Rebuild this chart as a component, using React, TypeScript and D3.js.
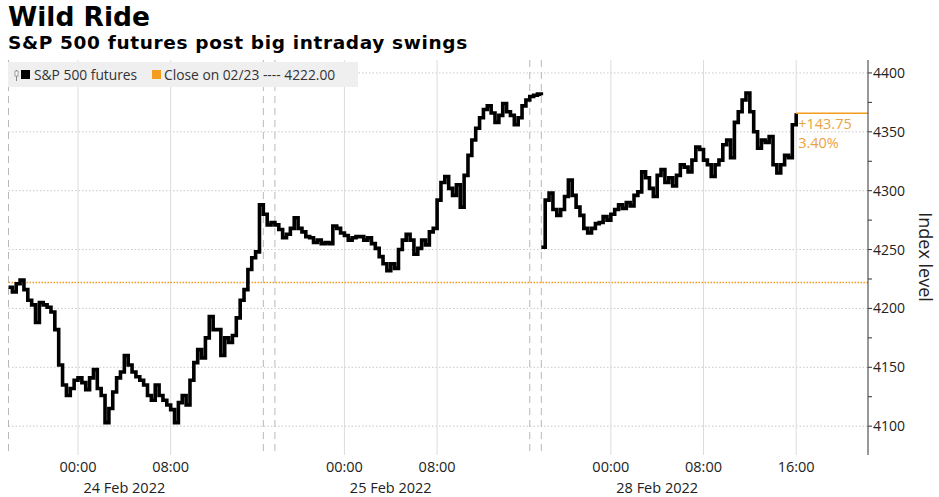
import React from "react";
import * as d3 from "d3";

// ---- Data (trading hours since 23 Feb 2022 18:00 ET, daily breaks removed) ----
// Session A: 23 Feb 18:00 -> 25 Feb 17:00, one value every 20 minutes
const SERIES_A_START = 0;
const SERIES_A: number[] = [
  4218, 4214, 4221, 4224, 4216, 4207, 4203, 4188, 4205, 4203,
  4201, 4197, 4182, 4152, 4135, 4126, 4132, 4139, 4141, 4137,
  4131, 4141, 4148, 4132, 4126, 4103, 4115, 4129, 4141, 4146,
  4160, 4152, 4146, 4142, 4139, 4135, 4126, 4122, 4135, 4126,
  4122, 4118, 4114, 4103, 4120, 4126, 4118, 4139, 4154, 4165,
  4158, 4175, 4193, 4182, 4182, 4160, 4175, 4171, 4177, 4192,
  4207, 4216, 4233, 4243, 4248, 4288, 4280, 4271, 4273, 4271,
  4267, 4260, 4263, 4268, 4277, 4268, 4265, 4261, 4260, 4256,
  4258, 4255, 4256, 4255, 4270, 4268, 4264, 4262, 4258, 4260,
  4261, 4261, 4258, 4260, 4255, 4251, 4244, 4238, 4232, 4238,
  4234, 4250, 4258, 4263, 4258, 4246, 4251, 4258, 4254, 4265,
  4268, 4292, 4307, 4312, 4302, 4296, 4305, 4286, 4313, 4330,
  4343, 4353, 4362, 4369, 4372, 4366, 4358, 4364, 4374, 4367,
  4364, 4356, 4362, 4372, 4377, 4380, 4381, 4382, 4381,
];
// Session B: 27 Feb 18:00 -> 28 Feb 16:00, one value every 20 minutes
const SERIES_B_START = 46;
const SERIES_B: number[] = [
  4252, 4292, 4298, 4284, 4279, 4284, 4295, 4309, 4296, 4286,
  4279, 4268, 4264, 4268, 4272, 4273, 4278, 4275, 4280, 4284,
  4288, 4285, 4290, 4287, 4296, 4299, 4316, 4311, 4302, 4295,
  4313, 4318, 4307, 4311, 4304, 4313, 4322, 4320, 4316, 4326,
  4337, 4335, 4326, 4322, 4312, 4322, 4326, 4339, 4343, 4328,
  4358, 4367, 4377, 4383, 4367, 4350, 4336, 4343, 4341, 4346,
  4322, 4315, 4322, 4330, 4328, 4356, 4365.75,
];
const STEP_HOURS = 1 / 3;
const PREV_CLOSE = 4222;

const X_TICKS = [6, 14, 29, 37, 52, 60, 68];
const X_TICK_LABELS = ["00:00", "08:00", "00:00", "08:00", "00:00", "08:00", "16:00"];
const DATE_POS = [10, 33, 56];
const DATE_LABELS = ["24 Feb 2022", "25 Feb 2022", "28 Feb 2022"];
const SESSION_BREAKS = [0, 22, 23, 45, 46];
const Y_TICKS = [4100, 4150, 4200, 4250, 4300, 4350, 4400];
const Y_MINOR = [4100, 4125, 4150, 4175, 4200, 4225, 4250, 4275, 4300, 4325, 4350, 4375, 4400];

const W = 939;
const H = 497;
const PLOT_L = 8.5;
const PLOT_R = 868;
const PLOT_T = 60;
const PLOT_B = 455;
const ORANGE = "#f39c1f";
const ORANGE_TXT = "#eba33e";
const TICK_FONT = "'Open Sans', 'Liberation Sans', sans-serif";

export default function App() {
  const x = d3.scaleLinear().domain([0, 74.2]).range([PLOT_L, PLOT_R]);
  const y = d3.scaleLinear().domain([4075.5, 4411]).range([PLOT_B, PLOT_T]);

  const mkLine = (start: number) =>
    d3
      .line<number>()
      .x((_, i) => x(start + i * STEP_HOURS))
      .y((d) => y(d))
      .curve(d3.curveStepAfter);

  const pathA = mkLine(SERIES_A_START)(SERIES_A) || "";
  const pathB = mkLine(SERIES_B_START)(SERIES_B) || "";

  const last = SERIES_B[SERIES_B.length - 1];
  const lastX = x(SERIES_B_START + (SERIES_B.length - 1) * STEP_HOURS);
  const chg = last - PREV_CLOSE;
  const pct = (chg / PREV_CLOSE) * 100;

  return (
    <svg
      width={W}
      height={H}
      style={{ position: "absolute", left: 0, top: 0, background: "#fff" }}
    >
      {/* Titles */}
      <text x={8} y={26} fontFamily="'DejaVu Sans', sans-serif" fontWeight="bold" fontSize={26.5} fill="#000">
        Wild Ride
      </text>
      <text x={8} y={49} fontFamily="'DejaVu Sans', sans-serif" fontWeight="bold" fontSize={18.5} letterSpacing={0.65} fill="#000">
        S&amp;P 500 futures post big intraday swings
      </text>

      {/* Horizontal dotted grid */}
      {Y_TICKS.map((v) => (
        <line key={"hg" + v} x1={PLOT_L} x2={PLOT_R} y1={y(v)} y2={y(v)} stroke="#c8c8c8" strokeWidth={1} strokeDasharray="1.5,2" />
      ))}
      {/* Vertical solid grid */}
      {X_TICKS.map((t) => (
        <line key={"vg" + t} x1={x(t)} x2={x(t)} y1={PLOT_T} y2={PLOT_B} stroke="#dcdcdc" strokeWidth={1} />
      ))}
      {/* Session break dashed lines */}
      {SESSION_BREAKS.map((t) => (
        <line key={"sb" + t} x1={x(t)} x2={x(t)} y1={PLOT_T} y2={PLOT_B} stroke="#b8b8b8" strokeWidth={1} strokeDasharray="7,5" />
      ))}

      {/* Legend */}
      <rect x={8} y={62} width={350} height={25} fill="#efefef" />
      <line x1={16.5} x2={16.5} y1={70} y2={81} stroke="#888" strokeWidth={1} />
      <rect x={15} y={71} width={3} height={5} fill="#fff" stroke="#888" strokeWidth={0.8} />
      <rect x={21} y={70} width={9} height={9} fill="#000" />
      <text x={34} y={80} fontFamily={TICK_FONT} fontSize={13.8} fill="#333">
        S&amp;P 500 futures
      </text>
      <rect x={152} y={70} width={9} height={9} fill={ORANGE} />
      <text x={164} y={80} fontFamily={TICK_FONT} fontSize={13.8} fill="#333">
        Close on 02/23 ---- 4222.00
      </text>

      {/* Previous close reference line */}
      <line x1={PLOT_L} x2={PLOT_R} y1={y(PREV_CLOSE)} y2={y(PREV_CLOSE)} stroke={ORANGE} strokeWidth={1.3} strokeDasharray="1.5,1.5" />

      {/* Price series */}
      <path d={pathA} fill="none" stroke="#000" strokeWidth={3.6} strokeLinejoin="miter" />
      <path d={pathB} fill="none" stroke="#000" strokeWidth={3.6} strokeLinejoin="miter" />

      {/* Last value marker */}
      <line x1={lastX} x2={PLOT_R} y1={y(last)} y2={y(last)} stroke={ORANGE} strokeWidth={1.3} />
      <text x={lastX + 2} y={y(last) + 16} fontFamily={TICK_FONT} fontSize={14.5} fill={ORANGE_TXT}>
        {(chg >= 0 ? "+" : "") + chg.toFixed(2)}
      </text>
      <text x={lastX + 2} y={y(last) + 35} fontFamily={TICK_FONT} fontSize={14.5} fill={ORANGE_TXT}>
        {pct.toFixed(2) + "%"}
      </text>

      {/* Y axis */}
      <line x1={PLOT_R} x2={PLOT_R} y1={PLOT_T} y2={PLOT_B} stroke="#333" strokeWidth={1} />
      {Y_MINOR.map((v) => (
        <line key={"ym" + v} x1={PLOT_R} x2={PLOT_R + 4} y1={y(v)} y2={y(v)} stroke="#333" strokeWidth={1} />
      ))}
      {Y_TICKS.map((v) => (
        <text key={"yl" + v} x={PLOT_R + 5} y={y(v) + 5} fontFamily={TICK_FONT} fontSize={14} fill="#222">
          {v}
        </text>
      ))}
      <text
        transform={`translate(919, 257) rotate(90)`}
        textAnchor="middle"
        fontFamily={TICK_FONT}
        fontSize={18}
        fill="#222"
      >
        Index level
      </text>

      {/* X axis labels */}
      {X_TICKS.map((t, i) => (
        <text key={"xl" + i} x={x(t)} y={472} textAnchor="middle" fontFamily={TICK_FONT} fontSize={14.5} fill="#222">
          {X_TICK_LABELS[i]}
        </text>
      ))}
      {DATE_POS.map((t, i) => (
        <text key={"dl" + i} x={x(t)} y={493} textAnchor="middle" fontFamily={TICK_FONT} fontSize={14.5} fill="#222">
          {DATE_LABELS[i]}
        </text>
      ))}
    </svg>
  );
}
